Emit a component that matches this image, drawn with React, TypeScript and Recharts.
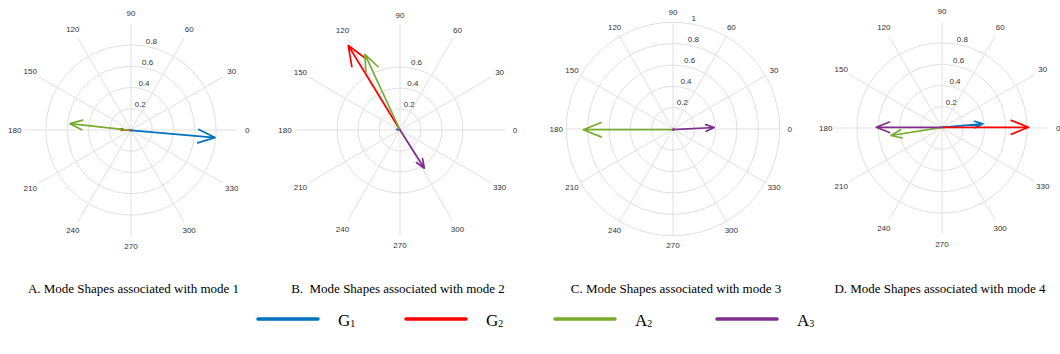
import React from 'react'
import {
  RadarChart,
  PolarGrid,
  PolarAngleAxis,
  PolarRadiusAxis,
  ScatterChart,
  Scatter,
  XAxis,
  YAxis,
} from 'recharts'

// series, in plotting order
const seriesNames = ['G1', 'G2', 'A2', 'A3']
const seriesColors = ['#0072BD', '#FF0000', '#77AC30', '#7E2F8E']

// angle axis ticks (degrees)
const angleTicks = [0, 30, 60, 90, 120, 150, 180, 210, 240, 270, 300, 330]

// magnitudes / angles (deg), order G1, G2, A2, A3
const mode1Mag = [0.632, 0.085, 0.464, 0.005]
const mode1Ang = [355, 175, 173.8, 180]
const mode2Mag = [0.02, 0.566, 0.476, 0.259]
const mode2Ang = [170, 121.5, 114.9, 302.5]
const mode3Mag = [0.004, 0.012, 0.838, 0.39]
const mode3Ang = [0, 25, 180, 3]
const mode4Mag = [0.307, 0.649, 0.391, 0.497]
const mode4Ang = [4.9, 0, 189.1, 180]

// radius axes
const rMax = [0.8, 0.6, 1, 0.8]
const rTicks = [
  [0.2, 0.4, 0.6, 0.8],
  [0.2, 0.4, 0.6],
  [0.2, 0.4, 0.6, 0.8, 1],
  [0.2, 0.4, 0.6, 0.8],
]

const captions = [
  'A. Mode Shapes associated with mode 1',
  'B.  Mode Shapes associated with mode 2',
  'C. Mode Shapes associated with mode 3',
  'D. Mode Shapes associated with mode 4',
]

const modes = [
  { mag: mode1Mag, ang: mode1Ang },
  { mag: mode2Mag, ang: mode2Ang },
  { mag: mode3Mag, ang: mode3Ang },
  { mag: mode4Mag, ang: mode4Ang },
]

// layout (pixels)
const centers = [
  { x: 131.3, y: 130, r: 106.3 },
  { x: 400, y: 129.5, r: 105 },
  { x: 672.7, y: 129.3, r: 106.7 },
  { x: 942, y: 127.5, r: 106.3 },
]
const captionX = [133.5, 398, 676, 940]
const legendX = [258, 406, 555, 717]
const BOX = 260

const sans = '"Liberation Sans", Arial, Helvetica, sans-serif'
const serif = '"Liberation Serif", "Times New Roman", Times, serif'

// compass-style arrow: origin -> tip -> barb -> tip -> barb
function arrowPoints(r: number, deg: number) {
  const t = (deg * Math.PI) / 180
  const ux = Math.cos(t)
  const uy = Math.sin(t)
  const tip = { x: r * ux, y: r * uy }
  const bx = 0.8 * r * ux
  const by = 0.8 * r * uy
  const px = -0.08 * r * uy
  const py = 0.08 * r * ux
  return [
    { x: 0, y: 0 },
    tip,
    { x: bx + px, y: by + py },
    tip,
    { x: bx - px, y: by - py },
  ]
}

const AngleTick = (props: any) => (
  <text
    x={props.x}
    y={props.y}
    textAnchor="middle"
    dominantBaseline="central"
    fontSize={8}
    fontFamily={sans}
    fill="#333333"
  >
    {props.payload.value}
  </text>
)

const RadiusTick = (props: any) => (
  <text x={props.x} y={props.y - 2.5} textAnchor="start" fontSize={8} fontFamily={sans} fill="#333333">
    {String(props.payload.value)}
  </text>
)

const NoDot = () => <g />

function Compass({ idx }: { idx: number }) {
  const c = centers[idx]
  const m = modes[idx]
  const max = rMax[idx]
  const angleData = angleTicks.map((a) => ({ angle: a }))
  return (
    <>
      <div style={{ position: 'absolute', left: c.x - BOX / 2, top: c.y - BOX / 2 }}>
        <RadarChart
          width={BOX}
          height={BOX}
          data={angleData}
          margin={{ top: 0, right: 0, bottom: 0, left: 0 }}
          outerRadius={c.r}
          startAngle={0}
          endAngle={360}
        >
          <PolarGrid gridType="circle" stroke="#e0e0e0" strokeWidth={1} />
          <PolarAngleAxis
            dataKey="angle"
            type="number"
            domain={[0, 360]}
            ticks={angleTicks}
            tick={AngleTick}
            tickSize={10}
            tickLine={false}
            axisLine={false}
          />
          <PolarRadiusAxis
            type="number"
            angle={80}
            domain={[0, max]}
            ticks={rTicks[idx]}
            tick={RadiusTick}
            tickLine={false}
            axisLine={false}
            allowDataOverflow
          />
        </RadarChart>
      </div>
      <div style={{ position: 'absolute', left: c.x - c.r, top: c.y - c.r }}>
        <ScatterChart width={2 * c.r} height={2 * c.r} margin={{ top: 0, right: 0, bottom: 0, left: 0 }}>
          <XAxis type="number" dataKey="x" domain={[-max, max]} hide allowDataOverflow />
          <YAxis type="number" dataKey="y" domain={[-max, max]} hide allowDataOverflow />
          {seriesNames.map((name, i) => (
            <Scatter
              key={name}
              name={name}
              data={arrowPoints(m.mag[i], m.ang[i])}
              fill={seriesColors[i]}
              line={{ stroke: seriesColors[i], strokeWidth: 1.7, strokeLinejoin: 'round', strokeLinecap: 'round' }}
              lineJointType="linear"
              shape={NoDot}
              isAnimationActive={false}
            />
          ))}
        </ScatterChart>
      </div>
    </>
  )
}

export default function App() {
  return (
    <div style={{ position: 'absolute', left: 0, top: 0, width: 1060, height: 354, background: '#fff', overflow: 'hidden' }}>
      <svg width={1060} height={354} style={{ position: 'absolute', left: 0, top: 0 }}>
        {captions.map((t, i) => (
          <text
            key={t}
            x={captionX[i]}
            y={292.5}
            textAnchor="middle"
            fontSize={13}
            fontFamily={serif}
            fill="#000"
            style={{ whiteSpace: 'pre' }}
          >
            {t}
          </text>
        ))}
        {seriesNames.map((name, i) => (
          <g key={name}>
            <line
              x1={legendX[i]}
              x2={legendX[i] + 60}
              y1={319}
              y2={319}
              stroke={seriesColors[i]}
              strokeWidth={3.5}
              strokeLinecap="round"
            />
            <text x={legendX[i] + 80} y={325.5} fontSize={17} fontFamily={serif} fill="#000">
              {name[0]}
              <tspan fontSize={10} dy={1}>
                {name.slice(1)}
              </tspan>
            </text>
          </g>
        ))}
      </svg>
      {captions.map((_, i) => (
        <Compass key={i} idx={i} />
      ))}
    </div>
  )
}
